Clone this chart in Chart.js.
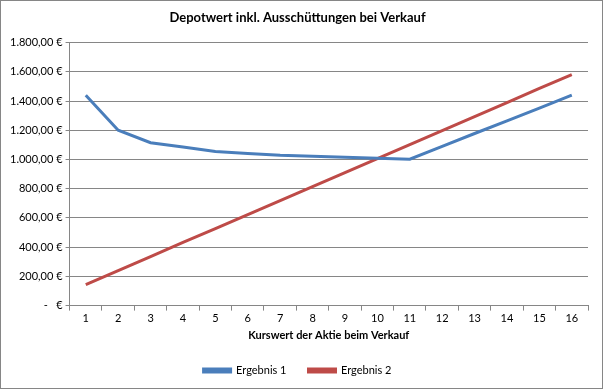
<!DOCTYPE html>
<html>
<head>
<meta charset="utf-8">
<script src="https://cdn.jsdelivr.net/npm/chart.js@4"></script>
<style>
  body { margin: 0; background: #fff; }
</style>
</head>
<body>
<canvas id="chart" width="603" height="389"></canvas>
<script>
// Kurswerte und Ergebnisse
const kurswerte = ['1','2','3','4','5','6','7','8','9','10','11','12','13','14','15','16'];
const ergebnis1 = [1440, 1200, 1115, 1086, 1054, 1041, 1029, 1022, 1016, 1009, 1002, 1090, 1178, 1264, 1352, 1440];
const ergebnis2 = [144, 240, 336, 432, 527, 623, 719, 815, 910, 1006, 1102, 1198, 1294, 1390, 1486, 1581];

const grau = '#868686';

// weißer Hintergrund + Rahmen wie im Excel-Diagramm
const rahmen = {
    id: 'rahmen',
    beforeDraw(chart) {
        const c = chart.ctx;
        c.save();
        c.fillStyle = '#fff';
        c.fillRect(0, 0, chart.width, chart.height);
        c.strokeStyle = grau;
        c.lineWidth = 1;
        c.strokeRect(0.5, 0.5, chart.width - 1, chart.height - 1);
        c.restore();
    }
};

function euro(v) {
    if (v === 0) return '-   €';
    return v.toLocaleString('de-DE', { minimumFractionDigits: 2, maximumFractionDigits: 2 }) + ' €';
}

new Chart(document.getElementById('chart'), {
    type: 'line',
    data: {
        labels: kurswerte,
        datasets: [{
            label: 'Ergebnis 1',
            data: ergebnis1,
            borderColor: '#4A7EBB',
            backgroundColor: '#4A7EBB',
            borderWidth: 3,
            pointRadius: 0,
            tension: 0
        }, {
            label: 'Ergebnis 2',
            data: ergebnis2,
            borderColor: '#BE4B48',
            backgroundColor: '#BE4B48',
            borderWidth: 3,
            pointRadius: 0,
            tension: 0
        }]
    },
    options: {
        responsive: false,
        animation: false,
        layout: { padding: { left: 7, right: 15, top: 4, bottom: 3 } },
        font: { family: 'Lato' },
        plugins: {
            title: {
                display: true,
                text: 'Depotwert inkl. Ausschüttungen bei Verkauf',
                color: '#000',
                font: { family: 'Lato', size: 13, weight: 'bold' },
                padding: { top: 6, bottom: 17 }
            },
            legend: {
                position: 'bottom',
                labels: {
                    color: '#000',
                    boxWidth: 27,
                    boxHeight: 3,
                    padding: 22,
                    font: { family: 'Lato', size: 11 }
                }
            },
            tooltip: { enabled: false }
        },
        scales: {
            x: {
                offset: true,
                grid: { drawOnChartArea: false, drawTicks: true, tickLength: 5, color: grau, offset: true },
                border: { color: grau },
                ticks: { color: '#000', font: { family: 'Lato', size: 11 }, maxRotation: 0, padding: 1 },
                title: {
                    display: true,
                    text: 'Kurswert der Aktie beim Verkauf',
                    color: '#000',
                    font: { family: 'Lato', size: 11, weight: 'bold' },
                    padding: { top: 3, bottom: 1 }
                }
            },
            y: {
                min: 0,
                max: 1800,
                grid: { color: grau, tickLength: 4 },
                border: { color: grau },
                ticks: {
                    stepSize: 200,
                    color: '#000',
                    font: { family: 'Lato', size: 11 },
                    padding: 3,
                    callback: v => euro(v)
                }
            }
        }
    },
    plugins: [rahmen]
});
</script>
</body>
</html>
